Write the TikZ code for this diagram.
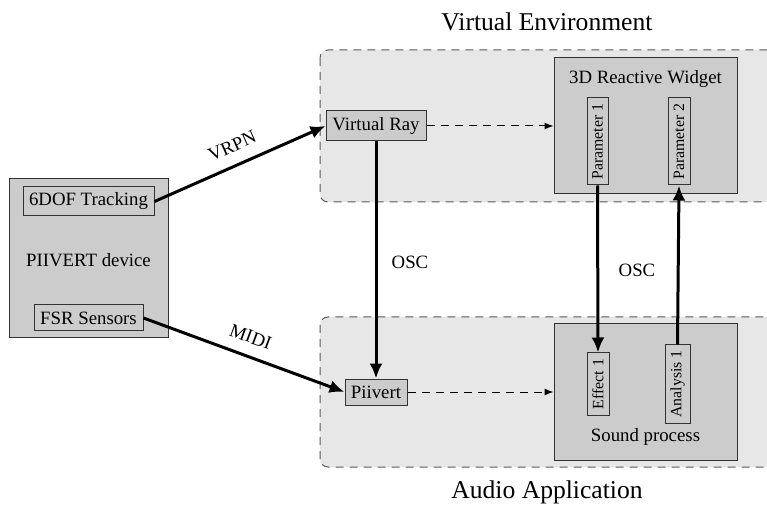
\documentclass[tikz,border=0pt]{standalone}
\usepackage{fontspec}
\setmainfont{Liberation Serif}
\usetikzlibrary{arrows.meta}
\definecolor{boxfill}{gray}{0.80}
\definecolor{regfill}{gray}{0.905}
\definecolor{boxline}{gray}{0.2}
\definecolor{regline}{gray}{0.35}
\tikzset{
  x=0.5pt, y=-0.5pt,
  box/.style={draw=boxline, fill=boxfill, line width=0.5pt, inner sep=0pt, font=\fontsize{9.4}{11}\selectfont},
  subbox/.style={box, rotate=90, font=\fontsize{7.9}{9}\selectfont},
  region/.style={draw=regline, fill=regfill, dash pattern=on 4pt off 3pt, line width=0.5pt, rounded corners=4pt},
  title/.style={font=\fontsize{12.8}{15}\selectfont},
  lbl/.style={font=\fontsize{9.4}{11}\selectfont},
  conn/.style={line width=1.5pt, -{Latex[length=7.5pt,width=6.5pt]}},
  dconn/.style={line width=0.5pt, dash pattern=on 4pt off 3pt, -{Latex[length=4.5pt,width=3.5pt]}},
}
\begin{document}
\begin{tikzpicture}
\useasboundingbox (0,0) rectangle (767,508);
% regions
\path[region] (320,50) rectangle (800,202);
\path[region] (320,317) rectangle (800,467);
\node[title] (vet) at (547,22) {Virtual Environment};
\node[title] (aat) at (547,492) {Audio Application};
% device
\node[box, minimum width=79.5pt, minimum height=79.5pt] (dev) at (88.5,258.5) {};
\node[lbl] (devt) at (88.5,260) {PIIVERT device};
\node[box, minimum width=65.5pt, minimum height=14.5pt] (dof) at (88.5,201.5) {6DOF Tracking};
\node[box, minimum width=54.5pt, minimum height=13pt] (fsr) at (88.5,318) {FSR Sensors};
% virtual environment
\node[box, minimum width=50pt, minimum height=15pt] (vr) at (376,126) {Virtual Ray};
\node[box, minimum width=91.5pt, minimum height=68pt] (wid) at (645.5,126) {};
\node[lbl] (widt) at (645.5,79) {3D Reactive Widget};
\node[subbox, minimum width=43.5pt, minimum height=10.5pt] (p1) at (597.5,141.5) {Parameter 1};
\node[subbox, minimum width=43.5pt, minimum height=11pt] (p2) at (679,141.5) {Parameter 2};
% audio application
\node[box, minimum width=31pt, minimum height=13pt] (pv) at (376,392) {Piivert};
\node[box, minimum width=91.5pt, minimum height=68pt] (sp) at (645.5,392) {};
\node[lbl] (spt) at (645.5,437) {Sound process};
\node[subbox, minimum width=31pt, minimum height=11pt] (e1) at (598,384) {Effect 1};
\node[subbox, minimum width=39pt, minimum height=12.5pt] (a1) at (677.5,384) {Analysis 1};
% connectors
\draw[conn] (dof.east) -- node[lbl, sloped, above=2.5pt] {VRPN} (vr.west);
\draw[conn] (fsr.east) -- node[lbl, sloped, above=2.5pt] {MIDI} (pv.west);
\draw[conn] (vr.south) -- (pv.north);
\draw[conn] (p1.west) -- (e1.east);
\draw[conn] (a1.east) -- (p2.west);
\draw[dconn] (vr.east) -- (wid.west);
\draw[dconn] (pv.east) -- (sp.west);
\node[lbl] (osc1) at (410,262) {OSC};
\node[lbl] (osc2) at (637,270) {OSC};
\end{tikzpicture}
\end{document}
